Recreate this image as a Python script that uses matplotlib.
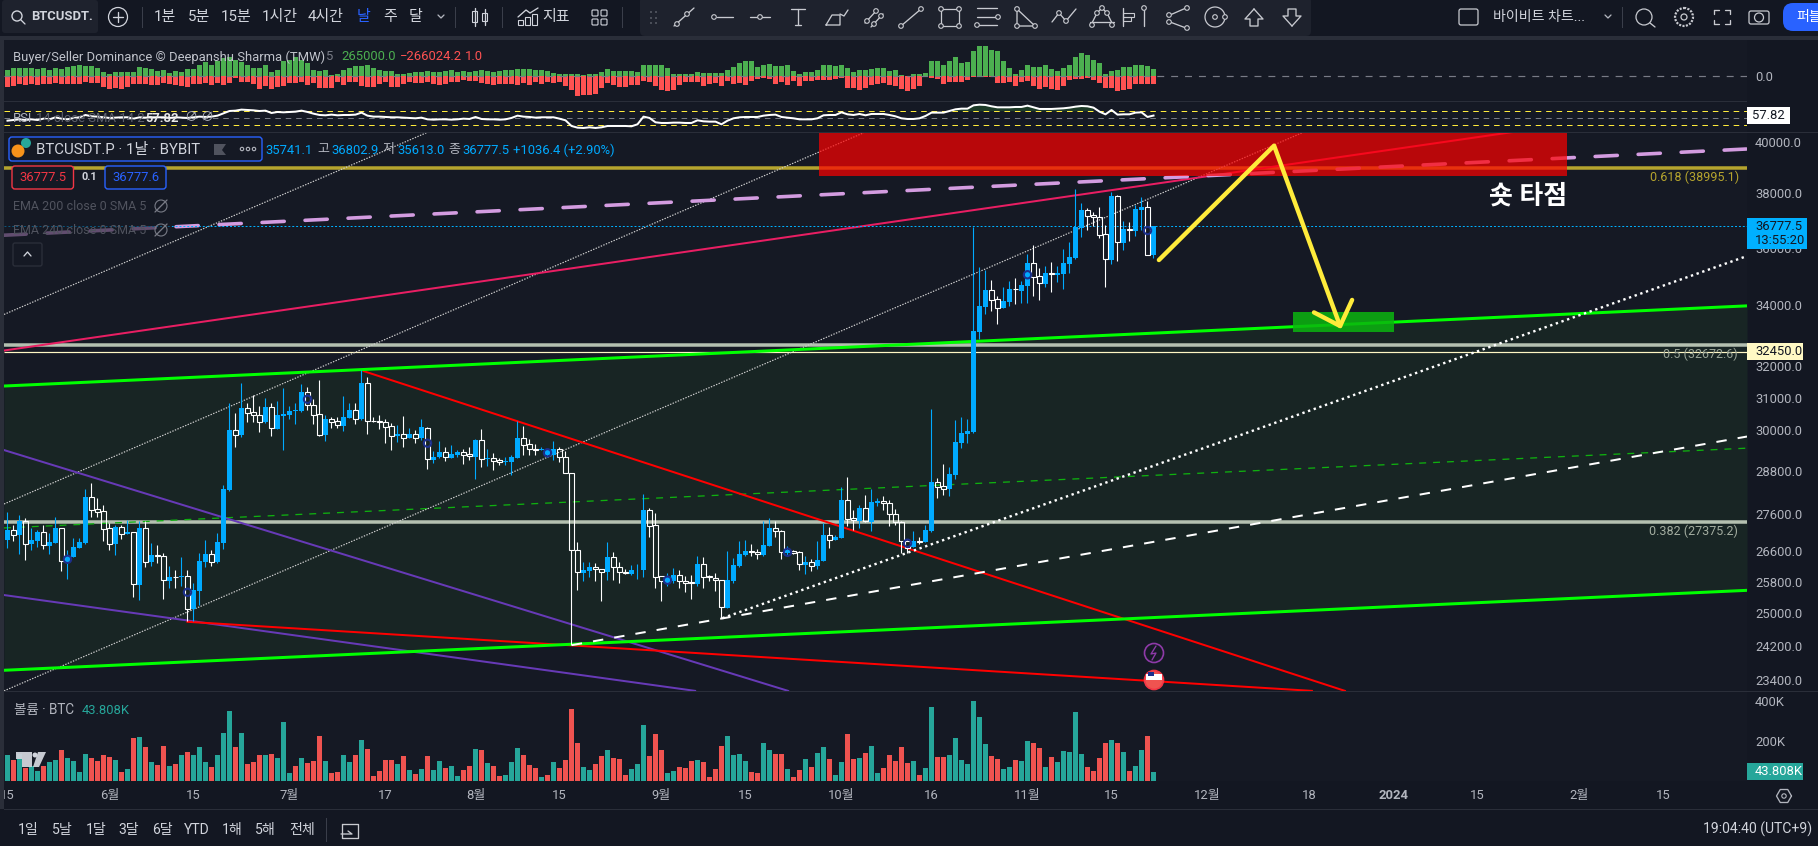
import numpy as np
import matplotlib
matplotlib.use("Agg")
import matplotlib.pyplot as plt
from matplotlib.patches import Rectangle, Circle, FancyBboxPatch, Polygon
from matplotlib.ticker import NullLocator

plt.rcParams['font.family'] = ['Roboto', 'Noto Sans CJK KR', 'DejaVu Sans']
plt.rcParams['lines.scale_dashes'] = False

# daily candles, May 15 - Nov 22
opens = [26900,27160,27020,27400,26800,26870,27110,26740,26820,27210,
         26280,26450,26690,26820,28070,27740,27680,27220,26790,27240,
         27070,27110,25720,27210,26310,26510,26470,25820,25930,25930,
         25940,25100,25560,26310,26520,26310,26820,28270,30010,29870,
         30670,30550,30460,30250,30710,30050,30450,30470,30600,30600,
         31160,30770,30490,29870,30340,30280,30130,30370,30610,30350,
         31450,30300,30280,30250,30120,29840,29890,29780,29890,29780,
         30080,29140,29220,29360,29190,29270,29350,29300,29230,29710,
         29160,29180,29120,29080,29080,29200,29770,29590,29450,29430,
         29280,29280,29450,29210,28750,26620,26030,26070,26180,26120,
         26040,26440,26180,26050,26010,26120,26110,27710,27290,25940,
         25750,25830,25970,25810,25790,25750,26250,25940,25890,25850,
         25140,25820,26220,26500,26600,26580,26500,26740,27210,27130,
         26540,26590,26570,26240,26310,26210,26340,27030,26900,26950,
         27980,27490,27410,27760,27390,27910,27960,27900,27600,27380,
         26860,26720,26870,26850,27130,28490,28390,28300,28700,29630,
         29910,29960,33100,33940,34500,34190,33900,34100,34550,34480,
         34660,35440,34980,34720,35090,35040,35060,35420,35640,36730,
         37370,37180,37110,36480,35560,37900,36170,36670,36600,37380,
         37490,35741.1]
highs = [27650,27300,27580,27490,27210,27170,27300,27080,27520,27210,
         26630,26950,26950,28290,28460,28040,27860,27350,27300,27300,
         27440,27120,27400,27400,26810,26770,26540,26210,26110,26440,
         26110,25760,26540,26900,26630,27080,28420,30830,30520,31450,
         30830,31080,30730,30980,30830,30880,31290,30730,30830,31430,
         31340,30950,31550,30470,30420,30420,31050,30830,30830,31870,
         31640,30420,30460,30340,30220,30170,30440,30060,30020,30340,
         30090,29380,29690,29520,29570,29430,29450,29520,29750,30050,
         29450,29330,29180,29230,29280,30290,30130,29760,29600,29500,
         29450,29690,29500,29380,28750,26840,26300,26320,26280,26130,
         26840,26570,26310,26120,26230,26260,28150,27760,27620,25950,
         26020,26150,26110,25940,25980,26480,26450,25980,26020,25850,
         26600,26410,26870,26900,26790,26650,27410,27490,27400,27170,
         26740,26630,26590,26460,26390,26860,27350,27260,27030,28370,
         28630,27700,27860,28130,28290,28040,28100,27990,27750,27410,
         26900,27140,26990,27300,30640,28610,29020,28920,30310,30400,
         30350,36750,35300,35210,34860,34310,34610,34830,34920,34810,
         35770,36100,35270,35330,35490,35360,35950,36200,38170,37630,
         37440,37300,37480,36830,38060,37940,36980,36940,37570,37870,
         37710,36802.9]
lows = [26680,26860,26530,26370,26630,26720,26660,26530,26820,26090,
        25880,26440,26680,26780,27530,27530,26860,26620,26510,26930,
        27070,25400,25340,26190,26210,26280,25360,25630,25630,25680,
        24800,24800,25210,26190,26210,26280,26660,28250,29520,29820,
        30270,30270,29940,30240,29850,30040,29430,30350,30190,30570,
        30620,30200,29840,29690,30060,30060,29990,30370,30200,30320,
        29900,30250,30040,29620,29410,29670,29500,29770,29620,29720,
        28880,29050,29180,29110,29180,29230,29020,29130,28590,28940,
        28960,28830,28990,28990,28700,29200,29280,29280,29280,29410,
        29230,29130,29080,28750,24230,25590,25810,25930,25830,25300,
        25850,25850,25780,26000,25980,25870,25930,26990,25650,25320,
        25680,25780,25640,25550,25370,25680,25640,25810,25560,24880,
        25140,25780,26190,26460,26460,26390,26480,26740,26990,26380,
        26460,26530,26110,25990,26090,26120,26340,26670,26900,26950,
        27280,27170,27210,27380,27150,27830,27720,27280,27300,26560,
        26560,26700,26790,26850,27110,28060,28130,28100,28590,29480,
        29640,29920,32870,33700,33780,33360,33890,33970,34030,34080,
        34080,34310,34170,34610,34450,34790,34550,35100,35600,36400,
        36640,36790,36360,34600,35420,35530,35930,36250,36420,36640,
        35730,35613.0]
closes = [27170,27020,27410,26800,26890,27110,26750,26850,27220,26330,
          26460,26700,26850,28080,27710,27670,27200,26800,27250,27070,
          27110,25730,27220,26320,26500,26480,25840,25930,25910,25940,
          25120,25590,26340,26530,26320,26850,28290,30020,29880,30680,
          30540,30470,30270,30720,30060,30470,30500,30590,30620,31170,
          30770,30480,29880,30350,30270,30150,30410,30620,30350,31460,
          30290,30280,30250,30110,29850,29900,29790,29900,29790,30090,
          29170,29230,29370,29210,29310,29370,29290,29240,29720,29170,
          29180,29110,29060,29110,29220,29780,29580,29440,29430,29450,
          29450,29450,29210,28750,26620,26050,26110,26180,26120,26050,
          26440,26180,26040,26020,26110,26130,27720,27280,25930,25810,
          25920,25980,25810,25780,25760,26260,25910,25920,25840,25150,
          25850,26240,26530,26610,26570,26520,26770,27220,27130,26570,
          26620,26560,26250,26310,26220,26370,27030,26910,26970,27990,
          27470,27430,27760,27400,27940,27960,27900,27590,27380,26860,
          26680,26870,26850,27160,28500,28370,28310,28730,29660,29930,
          29990,33130,33970,34520,34170,33910,34140,34550,34530,34690,
          35460,34960,34740,35100,35050,35100,35460,35670,36750,37380,
          37170,37110,36470,35580,37900,36200,36680,36630,37420,37490,
          35740,36777.5]

# volume in thousands, g/r = bar colour
volume = [130,105,135,63,75,50,75,95,105,155,
          115,100,45,135,115,100,130,120,105,45,
          60,215,220,170,95,80,175,75,85,130,
          145,130,170,95,70,130,240,350,170,240,
          85,95,130,130,135,115,295,40,75,115,
          90,100,225,100,40,45,130,95,130,205,
          160,25,50,105,105,85,125,55,35,60,
          125,55,100,65,75,25,55,75,160,155,
          90,75,25,30,95,165,130,80,65,20,
          30,95,65,105,360,190,70,55,85,125,
          155,115,110,30,60,85,280,125,235,155,
          40,50,70,65,100,105,95,20,60,175,
          225,130,135,100,45,40,190,155,135,135,
          60,20,55,110,70,140,170,110,30,95,
          235,110,115,140,175,40,65,130,100,170,
          90,100,30,65,370,120,120,130,215,105,
          85,400,320,185,125,110,60,70,105,100,
          200,190,165,70,120,95,150,145,345,135,
          70,50,115,190,205,190,145,50,75,155,
          225,43.808]
volume_side = ("grgrggrggr" "ggggrrrrgr" "grgrgrrgrg" "rgggrgggrg" "rrrgrgggrg"
               "rrrgrrggrg" "rrrrrgrgrg" "rggrggrrgr" "grrgggrrrg" "rgrrrrggrr"
               "grrrgggrrr" "ggrrrgrrrr" "ggggrrggrr" "grrgrggrgg" "rrgrggrrrr"
               "rgrggrrggg" "ggggrrggrg" "grrgrggggg" "rrrrgrgrgg" "rg")

# buyer/seller dominance, read in steps of 12K
dom_buy = [17,24,25,25,25,21,25,19,24,20,
           26,31,32,30,29,23,13,7,12,12,
           13,13,26,25,22,15,17,10,15,13,
           22,21,34,42,32,46,55,58,49,42,
           33,24,24,32,11,19,44,49,57,49,
           39,19,14,19,4,7,17,24,31,31,
           33,24,17,14,15,7,7,10,11,13,
           14,13,13,16,17,13,15,12,16,19,
           15,11,15,17,19,21,21,21,19,19,
           14,9,7,7,7,5,4,5,7,13,
           21,16,16,14,14,11,34,34,34,32,
           25,7,7,7,7,13,9,10,10,10,
           18,28,40,46,46,28,34,36,29,29,
           32,16,5,13,13,19,34,34,29,34,
           24,12,19,17,22,25,25,16,17,3,
           1,7,7,9,44,44,34,46,58,38,
           43,76,91,89,79,74,46,24,7,19,
           33,27,26,32,21,16,24,33,57,69,
           62,49,39,7,15,17,28,28,33,32,
           31,22]
dom_sell = [33,29,25,28,25,26,25,23,21,23,
            24,23,23,19,21,21,33,38,36,38,
            33,23,25,24,26,27,20,23,27,29,
            34,24,23,21,26,21,26,21,7,17,
            18,23,40,29,39,33,29,21,21,17,
            26,21,35,36,35,19,27,17,18,29,
            33,33,25,19,33,33,25,17,20,21,
            17,24,26,24,19,18,11,16,14,21,
            23,26,23,24,23,26,21,26,17,23,
            19,21,19,31,43,59,58,56,54,36,
            21,26,33,33,28,26,14,18,31,43,
            44,43,26,18,19,19,29,23,21,29,
            16,23,21,26,16,8,7,9,24,19,
            26,15,29,14,14,11,11,11,8,6,
            36,37,43,36,27,23,21,26,29,39,
            46,39,29,4,7,9,23,19,19,19,
            12,3,3,3,3,21,21,19,29,19,
            14,29,39,33,39,41,31,11,9,9,
            7,11,21,36,36,46,41,39,23,23,
            23,23]

rsi = [43.3,45.2,47.1,45.2,47.1,45.2,49,47.1,52.9,49,
       47.1,51,52.9,59.5,55.7,54.8,52.9,51,51.9,52.9,
       52.9,49,52.9,51.9,52.9,52.9,52.9,51,52.9,51.9,
       51,52.9,54.8,53.8,54.8,57.6,64.3,70.9,71.9,74.8,
       73.8,72.8,70.9,71.9,65.2,68.1,67.1,68.1,69,71.9,
       68.1,63.3,59.5,58.6,60.5,58.6,59.5,59.5,60.5,66.2,
       57.6,54.8,54.8,53.8,52.9,52.9,51.9,51,50,51.9,
       47.1,46.2,47.1,47.1,46.2,47.1,49,48.1,53.8,48.1,
       47.1,47.1,46.2,47.1,51,57.6,54.8,53.8,51.9,52.9,
       52.9,52.9,49,44.3,28.1,23.3,22.4,24.3,22.4,24.3,
       28.1,28.1,28.1,28.1,27.2,32.9,54.8,51,38.6,36.7,
       36.7,37.6,37.6,36.7,36.7,44.3,41.4,40.5,40.5,32.9,
       43.3,50,52.9,53.8,53.8,53.8,57.6,59.5,60.5,53.8,
       51.9,50,47.1,47.1,47.1,50,58.6,59.5,59.5,67.1,
       61.4,59.5,62.4,58.6,62.4,62.4,62.4,59.5,55.7,50,
       48.1,48.1,50,56.7,66.2,66.2,66.2,70.9,75.7,77.6,
       77.6,87.1,89,88.1,84.3,81.4,81.4,81.4,82.4,82.4,
       86.2,81.4,76.7,76.7,76.7,77.6,78.6,80.5,83.3,85.2,
       84.3,80.5,69,61.4,73.8,60.5,61.4,61.4,66.2,67.1,
       53.8,57.82]

marker_idx = [10,30,50,70,90,110,130,150,170,190]
marker_price = [26384,25530,30949,29622,29340,25840,26570,26810,35040,36620]

price_ticks = [40000,38000,36000,34000,32000,31000,30000,28800,27600,26600,25800,25000,24200,23400]
date_idx = [0,17,31,47,63,78,92,109,123,139,154,170,184,200,217,231,245,262,276]
date_labels = ['15','6월','15','7월','17','8월','15','9월','15','10월','16','11월','15','12월','18','2024','15','2월','15']

# fib levels
fib_618 = 38995.1
fib_500 = 32672.6
fib_382 = 27375.2
alert_price = 32450.0
last_price = 36777.5

# drawings: [idx0, idx1], [price0, price1]
green_top = ([-0.58,289.92],[31360,33970])
green_low = ([-0.58,289.92],[23620,25580])
green_mid = ([-0.58,289.92],[27222,29476])
pink_line = ([-0.58,289.92],[36449,39722])
crimson = ([-0.58,250.9],[32490,40400])
dot_a = ([-0.58,69.83],[33680,40370])
dot_b = ([-0.58,142.7],[27880,40370])
dot_c = ([-0.58,216.08],[23140,40400])
purple_a = ([-0.58,130.1],[29420,23140])
purple_b = ([-0.58,114.6],[25460,23140])
red_a = ([59.35,222.9],[31830,23140])
red_b = ([30,217.4],[24790,23140])
white_dash = ([94.05,289.92],[24220,29820])
white_dot = ([119.15,289.92],[24880,35700])
arrow_x = [191.9,211.1,222.1]
arrow_y = [35558,39853,33294]
barb_x = [217.75,222.1,224.1]
barb_y = [33749,33294,34171]
short_zone = (135.25,260.0,38680,40371)
target_zone = (214.25,231.08,33096,33773)

W, H = 1818, 846
BG = '#131722'
PANE = '#151924'
GRID = '#2a2e39'
TXT = '#b2b5be'
BLUE = '#00aaff'
PX = 0.72  # one pixel in points at dpi 100

fig = plt.figure(figsize=(W/100, H/100), dpi=100, facecolor=BG)

def px_axes(x0, y0, x1, y1, **kw):
    return fig.add_axes([x0/W, 1-y1/H, (x1-x0)/W, (y1-y0)/H], **kw)

xlim = (-0.583, 289.917)
idx = np.arange(len(closes))

# ---- dominance pane
ax_dom = px_axes(4, 40, 1747, 101, facecolor=PANE)
ax_dom.bar(idx, np.array(dom_buy)*12, width=0.82, color='#4caf50')
ax_dom.bar(idx, -np.array(dom_sell)*12, width=0.82, color='#ff5252')
ax_dom.axhline(0, color='#787b86', lw=PX*1.2, dashes=(5, 5))
ax_dom.set_xlim(xlim)
ax_dom.set_ylim(-900, 1296)
ax_dom.set_xticks([])
ax_dom.yaxis.tick_right()
ax_dom.set_yticks([0], ['0.0'])

# ---- rsi pane
ax_rsi = px_axes(4, 102, 1747, 132, facecolor=PANE)
rsi_arr = np.array(rsi)
ax_rsi.fill_between(idx, 70, rsi_arr, where=rsi_arr > 70, color='#2e7d32', alpha=0.35, lw=0)
ax_rsi.axhline(70, color='#ffeb3b', lw=PX, dashes=(4, 3.5))
ax_rsi.axhline(50, color='#787b86', lw=PX, dashes=(4, 3.5))
ax_rsi.axhline(30, color='#ffeb3b', lw=PX, dashes=(4, 3.5))
ax_rsi.plot(idx, rsi_arr, color='white', lw=PX*2)
ax_rsi.set_xlim(xlim)
ax_rsi.set_ylim(10.9, 96.6)
ax_rsi.set_xticks([])
ax_rsi.set_yticks([])

# ---- main pane
ax = px_axes(4, 133, 1747, 691, facecolor=PANE)
ax.set_yscale('log')
xs = np.array(xlim)
ax.fill_between(xs, np.exp(np.interp(xs, green_low[0], np.log(green_low[1]))),
                np.exp(np.interp(xs, green_top[0], np.log(green_top[1]))), color='#182524', lw=0, zorder=1)
ax.hlines(fib_618, *xs, color='#b5a42e', lw=PX*3.5, zorder=2)
ax.hlines(fib_500, *xs, color='#b4c0b0', lw=PX*3.5, zorder=2)
ax.hlines(fib_382, *xs, color='#b4c0b0', lw=PX*3.5, zorder=2)
ax.hlines(alert_price, *xs, color='#fff7c4', lw=PX*1.2, zorder=2)
ax.plot(*green_mid, color='#0fb00f', lw=PX*1.3, dashes=(5, 5), zorder=2)
for ln in (dot_a, dot_b, dot_c):
    ax.plot(*ln, color='#cfcfcf', lw=PX*1.2, dashes=(1, 1), zorder=2)
for ln in (purple_a, purple_b):
    ax.plot(*ln, color='#673ab7', lw=PX*2, zorder=2)
for ln in (red_a, red_b):
    ax.plot(*ln, color='#ff0000', lw=PX*2, zorder=2)
ax.plot(*crimson, color='#e91e63', lw=PX*2, zorder=2)
ax.plot(*pink_line, color='#d39ce0', lw=PX*3.6, dashes=(16, 15), dash_capstyle='round', zorder=2)
ax.plot(*green_top, color='#00ff00', lw=PX*3, zorder=2)
ax.plot(*green_low, color='#00ff00', lw=PX*3, zorder=2)
ax.plot(*white_dash, color='white', lw=PX*2, dashes=(7.5, 8), zorder=2)
ax.plot(*white_dot, color='white', lw=PX*2.4, dashes=(1.7, 2.6), zorder=2)
ax.hlines(last_price, *xs, color='#00b0ff', lw=PX, linestyles=[(0, (1.4, 1.4))], zorder=2)

# candles, blue filled up and hollow white down
opens_a, highs_a, lows_a, closes_a = map(np.array, (opens, highs, lows, closes))
up = closes_a >= opens_a
top = np.maximum(opens_a, closes_a)
bot = np.minimum(opens_a, closes_a)
ax.vlines(idx[up], lows_a[up], highs_a[up], color=BLUE, lw=PX*1.1, zorder=3)
ax.bar(idx[up], (top-bot)[up], bottom=bot[up], width=0.83, color=BLUE, lw=0, zorder=3)
dn = ~up
ax.vlines(idx[dn], top[dn], highs_a[dn], color='white', lw=PX*1.1, zorder=3)
ax.vlines(idx[dn], lows_a[dn], bot[dn], color='white', lw=PX*1.1, zorder=3)
ax.bar(idx[dn], (top-bot)[dn], bottom=bot[dn], width=0.72, facecolor='none', edgecolor='white', lw=PX*1.1, zorder=3)
ax.scatter(marker_idx, marker_price, s=28, facecolors='none', edgecolors='#1c2f8c', linewidths=1.5, zorder=4)

# zones and arrow
x0, x1, y0, y1 = short_zone
ax.add_patch(Rectangle((x0, y0), x1-x0, y1-y0, facecolor='#ff0000', alpha=0.7, lw=0, zorder=5))
x0, x1, y0, y1 = target_zone
ax.add_patch(Rectangle((x0, y0), x1-x0, y1-y0, facecolor='#0bb50f', alpha=0.85, lw=0, zorder=2.5))
ax.plot(arrow_x, arrow_y, color='#ffeb3b', lw=PX*4.4, solid_capstyle='round', zorder=6)
ax.plot(barb_x, barb_y, color='#ffeb3b', lw=PX*4.4, solid_capstyle='round', zorder=6)

ax.set_xlim(xlim)
ax.set_ylim(23137, 40360)
ax.yaxis.tick_right()
ax.set_yticks(price_ticks, [f'{p:.1f}' for p in price_ticks])
ax.yaxis.set_minor_locator(NullLocator())
ax.set_xticks([])

# ---- volume pane
ax_vol = px_axes(4, 692, 1747, 781, facecolor=PANE)
vol_colors = ['#26a69a' if s == 'g' else '#ef5350' for s in volume_side]
ax_vol.bar(idx, volume, width=0.82, color=vol_colors, lw=0)
ax_vol.set_xlim(xlim)
ax_vol.set_ylim(0, 445)
ax_vol.yaxis.tick_right()
ax_vol.set_yticks([200, 400], ['200K', '400K'])
ax_vol.set_xticks(date_idx, date_labels)
ax_vol.tick_params(axis='x', length=0, pad=6, colors=TXT, labelsize=9.4)
for lab, s in zip(ax_vol.get_xticklabels(), date_labels):
    if s == '2024':
        lab.set_fontweight('bold')

for a in (ax_dom, ax_rsi, ax, ax_vol):
    for sp in a.spines.values():
        sp.set_visible(False)
    a.tick_params(axis='y', length=0, pad=5.8, colors=TXT, labelsize=9.4)

# ---- interface layer, in screen pixels
ui = fig.add_axes([0, 0, 1, 1], zorder=20)
ui.set_xlim(0, W)
ui.set_ylim(H, 0)
ui.axis('off')
ui.patch.set_visible(False)

def label(x, y, s, color=TXT, size=12, ha='left', weight='normal', **kw):
    return ui.text(x, y, s, color=color, fontsize=size*PX, ha=ha, va='center', fontweight=weight, **kw)

def rect(x0, y0, x1, y1, fc, ec='none', lw=0, z=1, alpha=None):
    ui.add_patch(Rectangle((x0, y0), x1-x0, y1-y0, facecolor=fc, edgecolor=ec, lw=lw, zorder=z, alpha=alpha))

def rbox(x0, y0, x1, y1, fc, ec='none', lw=0, r=3, z=1):
    ui.add_patch(FancyBboxPatch((x0+r, y0+r), x1-x0-2*r, y1-y0-2*r, boxstyle=f'round,pad={r}',
                                facecolor=fc, edgecolor=ec, lw=lw, zorder=z))

def stroke(xs_, ys_, color='#c8cad0', lw=1.1, z=3):
    ui.plot(xs_, ys_, color=color, lw=lw*PX*1.2, zorder=z, solid_capstyle='round')

def dot(x, y, r=2.3, color='#c8cad0', z=4):
    ui.add_patch(Circle((x, y), r, facecolor='#1e222d', edgecolor=color, lw=0.8, zorder=z))

# frame
rect(0, 36, W, 40, GRID)
rect(0, 40, 4, 809, GRID)
rect(4, 101, 1747, 102, GRID)
rect(4, 132, W, 133, GRID)
rect(4, 691, W, 692, GRID)
rect(4, 809, W, 810, GRID)

# top bar
rbox(2, 0, 98, 33, '#1e222d', r=3)
ui.add_patch(Circle((17, 16), 5, facecolor='none', edgecolor='#d1d4dc', lw=1))
stroke([21, 25], [20, 24], '#d1d4dc')
label(31, 17, 'BTCUSDT.', '#d1d4dc', 13, weight='bold')
ui.add_patch(Circle((118, 17), 9.5, facecolor='none', edgecolor='#d1d4dc', lw=0.9))
stroke([113, 123], [17, 17], '#d1d4dc')
stroke([118, 118], [12, 22], '#d1d4dc')
for sx in (142, 455, 502, 622, 1622):
    rect(sx, 7, sx+1, 28, '#3a3e4a')
for cx, s in zip((165, 199, 236, 280, 326, 390, 416), ('1분', '5분', '15분', '1시간', '4시간', '주', '달')):
    label(cx, 17, s, '#d1d4dc', 15, ha='center')
label(364, 17, '날', '#2962ff', 15, ha='center')
stroke([438, 441, 444], [15, 18, 15], TXT)
rect(472, 11, 477, 22, 'none', '#d1d4dc', 0.8)
rect(482, 13, 487, 21, 'none', '#d1d4dc', 0.8)
stroke([474.5, 474.5], [8, 26], '#d1d4dc')
stroke([484.5, 484.5], [9, 25], '#d1d4dc')
stroke([518, 526, 530, 538], [17, 10, 13, 8], '#d1d4dc')
for bx, bh in ((518, 5), (525, 8), (532, 11)):
    rect(bx, 25-bh, bx+5, 25, 'none', '#d1d4dc', 0.8)
label(556, 17, '지표', '#d1d4dc', 15, ha='center')
for gx in (592, 601):
    for gy in (10, 19):
        rbox(gx, gy, gx+6, gy+6, 'none', '#d1d4dc', 0.8, r=1)

# drawing toolbar
rbox(640, -4, 1311, 36, '#1e222d', r=5, z=2)
for dx in (650, 655):
    for dy in (11, 17, 22):
        rect(dx, dy, dx+2, dy+2, '#4a4e58', z=3)
def seg_icon(cx, kind):
    if kind == 'diag':
        stroke([cx-10, cx+10], [26, 8])
        dot(cx-7, 24); dot(cx+3, 14)
    elif kind == 'ray':
        stroke([cx-5, cx+11], [17, 17])
        dot(cx-8, 17)
    elif kind == 'hmid':
        stroke([cx-10, cx+10], [17, 17])
        dot(cx, 17)
    elif kind == 'text':
        stroke([cx-7, cx+7], [9, 9])
        stroke([cx, cx], [9, 25])
        stroke([cx-3, cx+3], [25, 25])
    elif kind == 'brush':
        stroke([cx-12, cx-6, cx+2, cx+2, cx-12], [25, 15, 15, 25, 25])
        stroke([cx+2, cx+6, cx+10], [14, 16, 10])
    elif kind == 'par':
        stroke([cx-10, cx+2], [23, 10])
        stroke([cx-4, cx+8], [27, 14])
        dot(cx-8, 21); dot(cx+1, 11); dot(cx-1, 24); dot(cx+6, 16)
    elif kind == 'line':
        stroke([cx-10, cx+10], [26, 9])
        dot(cx-10, 26); dot(cx+10, 9)
    elif kind == 'rect':
        rect(cx-9, 9, cx+9, 26, 'none', '#c8cad0', 0.9, z=3)
        for a_, b_ in ((-9, 9), (9, 9), (-9, 26), (9, 26)):
            dot(cx+a_, b_)
    elif kind == 'fib':
        for yy in (8, 17, 25):
            stroke([cx-11, cx+9], [yy, yy])
        dot(cx+10, 17); dot(cx-11, 25)
    elif kind == 'tri':
        stroke([cx-9, cx-9, cx+9, cx-9], [9, 26, 26, 9])
        dot(cx-9, 9); dot(cx-9, 26); dot(cx+9, 26)
    elif kind == 'wave':
        stroke([cx-12, cx-5, cx+2, cx+12], [22, 13, 21, 9])
        dot(cx-5, 13); dot(cx+2, 21)
    elif kind == 'pattern':
        stroke([cx-11, cx-5, cx, cx+5, cx+11], [25, 13, 8, 13, 25])
        stroke([cx-12, cx+12], [22, 22])
        for a_, b_ in ((-10, 25), (-5, 13), (0, 8), (5, 13), (10, 25)):
            dot(cx+a_, b_)
    elif kind == 'pos':
        stroke([cx-7, cx-7], [8, 26])
        rect(cx-7, 13, cx+4, 17, 'none', '#c8cad0', 0.8, z=3)
        rect(cx-7, 17, cx+1, 21, 'none', '#c8cad0', 0.8, z=3)
        stroke([cx+14, cx+14], [8, 26])
        dot(cx+14, 8)
    elif kind == 'share':
        stroke([cx-8, cx+8], [15, 8])
        stroke([cx-8, cx+8], [22, 28])
        for a_, b_ in ((-9, 15), (9, 8), (-9, 22), (9, 28)):
            dot(cx+a_, b_)
    elif kind == 'ring':
        ui.add_patch(Circle((cx, 17), 10, facecolor='none', edgecolor='#c8cad0', lw=0.9, zorder=3))
        dot(cx, 17); dot(cx+10, 17)
    elif kind == 'up':
        stroke([cx, cx+9, cx+4, cx+4, cx-4, cx-4, cx-9, cx], [9, 19, 19, 26, 26, 19, 19, 9])
    elif kind == 'down':
        stroke([cx, cx+9, cx+4, cx+4, cx-4, cx-4, cx-9, cx], [26, 16, 16, 9, 9, 16, 16, 26])
for cx, kind in ((684, 'diag'), (722, 'ray'), (760, 'hmid'), (798, 'text'), (838, 'brush'), (875, 'par'),
                 (911, 'line'), (950, 'rect'), (988, 'fib'), (1026, 'tri'), (1064, 'wave'), (1102, 'pattern'),
                 (1130, 'pos'), (1178, 'share'), (1215, 'ring'), (1254, 'up'), (1292, 'down')):
    seg_icon(cx, kind)

# top right
rbox(1459, 9, 1478, 25, 'none', '#c8cad0', 0.9, r=2)
label(1493, 17, '바이비트 차트...', '#d1d4dc', 14)
stroke([1605, 1608, 1611], [15, 18, 15], TXT)
ui.add_patch(Circle((1644, 17), 8, facecolor='none', edgecolor='#c8cad0', lw=0.9))
stroke([1650, 1655], [23, 27])
ui.add_patch(Circle((1684, 17), 9, facecolor='none', edgecolor='#c8cad0', lw=1.6, linestyle=(0, (1.5, 1))))
ui.add_patch(Circle((1684, 17), 3, facecolor='none', edgecolor='#c8cad0', lw=0.9))
for xa, xb, ya, yb in ((1714, 1719, 10, 10), (1725, 1730, 10, 10), (1714, 1719, 24, 24), (1725, 1730, 24, 24),
                       (1714, 1714, 10, 14), (1730, 1730, 10, 14), (1714, 1714, 20, 24), (1730, 1730, 20, 24)):
    stroke([xa, xb], [ya, yb])
rbox(1749, 11, 1769, 24, 'none', '#c8cad0', 0.9, r=2)
ui.add_patch(Circle((1759, 17.5), 4.5, facecolor='none', edgecolor='#c8cad0', lw=0.9))
rbox(1783, 3, 1834, 31, '#2962ff', r=10)
label(1796, 17, '퍼블', 'white', 14, clip_on=True)

# legends
label(13, 57, 'Buyer/Seller Dominance © Deepanshu Sharma (TMW)', '#c0c3cb', 13)
label(326, 57, '5', '#787b86', 13)
label(341, 57, '265000.0', '#4caf50', 13)
label(400, 57, '−266024.2', '#ff5252', 13)
label(465, 57, '1.0', '#ff5252', 13)
label(13, 118, 'RSI', '#b2b5be', 13)
label(36, 118, '14 close SMA 14 2', '#5d606b', 13)
label(145, 118, '57.82', '#e8e8e8', 13, weight='bold')
label(184, 118, '∅', TXT, 13)
label(200, 118, '∅', TXT, 13)

rbox(9, 137, 262, 161, '#151924', '#2962ff', 1, r=3, z=2)
ui.add_patch(Circle((26, 143), 5, facecolor='#26a69a', zorder=3))
ui.add_patch(Circle((18, 151), 6.5, facecolor='#f7931a', zorder=3))
label(35.5, 150, 'BTCUSDT.P · 1날 · BYBIT', '#d1d4dc', 15, zorder=3)
ui.add_patch(Polygon([(214, 144), (226, 144), (222, 150), (226, 155), (214, 155)], facecolor='#50535e', zorder=3))
for cx in (242, 248, 254):
    ui.add_patch(Circle((cx, 149), 1.7, facecolor='none', edgecolor='#b2b5be', lw=0.8, zorder=3))
OHLC = '#00aaff'
label(265, 150, '35741.1', OHLC, 13)
label(317, 150, '고', TXT, 13)
label(331, 150, '36802.9', OHLC, 13)
label(382, 150, '저', TXT, 13)
label(397, 150, '35613.0', OHLC, 13)
label(448, 150, '종', TXT, 13)
label(462, 150, '36777.5', OHLC, 13)
label(513, 150, '+1036.4 (+2.90%)', OHLC, 13)

rbox(12, 166, 73.5, 189, '#151924', '#f23645', 1, r=3, z=2)
label(43, 177.5, '36777.5', '#f23645', 13, ha='center', zorder=3)
label(89, 177, '0.1', '#d1d4dc', 11, ha='center', weight='bold', zorder=3)
rbox(105, 166, 166, 189, '#151924', '#2962ff', 1, r=3, z=2)
label(136, 177.5, '36777.6', '#2962ff', 13, ha='center', zorder=3)

rect(4, 195, 172, 240, PANE, alpha=0.6)
label(13, 206, 'EMA 200 close 0 SMA 5', '#50535e', 12.5, zorder=3)
label(13, 230, 'EMA 240 close 0 SMA 5', '#50535e', 12.5, zorder=3)
for ey in (206, 230):
    ui.add_patch(Circle((161, ey), 6, facecolor='none', edgecolor='#787b86', lw=0.8, zorder=3))
    stroke([155, 167], [ey+6, ey-6], '#787b86')
rbox(13, 243, 42, 266, '#151924', '#2a2e39', 1, r=2, z=2)
stroke([24, 27.5, 31], [256, 252, 256], '#d1d4dc', z=3)

label(1528, 196, '숏 타점', 'white', 26, ha='center', weight='bold', zorder=8)
label(1739, 177, '0.618 (38995.1)', '#b5a42e', 12.5, ha='right')
label(1738, 354, '0.5 (32672.6)', '#9aa598', 12.5, ha='right')
label(1738, 531.5, '0.382 (27375.2)', '#a3ada0', 12.5, ha='right')

# price tags
rect(1747, 107, 1790, 124, 'white', z=3)
label(1768.5, 115.5, '57.82', '#131722', 13, ha='center', zorder=4)
rect(1747, 218, 1807, 249, '#00b0ff', z=3)
label(1755, 226, '36777.5', '#131722', 13, zorder=4)
label(1755, 241, '13:55:20', '#131722', 13, zorder=4)
rect(1747, 343, 1803, 360, '#fff9c4', z=3)
label(1755, 351.5, '32450.0', '#131722', 13, zorder=4)
rect(1747, 763, 1803, 780, '#26a69a', z=3)
label(1755, 771.5, '43.808K', 'white', 13, zorder=4)

# event icons
ui.add_patch(Circle((1154, 653), 9.5, facecolor='#151924', edgecolor='#8e3aa8', lw=1.2, zorder=3))
stroke([1156, 1151, 1156, 1152], [646, 654, 653, 660], '#8e3aa8', z=4)
ui.add_patch(Circle((1154, 680), 9.5, facecolor='#ef5350', edgecolor='#f23645', lw=1.2, zorder=3))
ui.add_patch(Rectangle((1146, 674), 16, 6, facecolor='white', zorder=4))
ui.add_patch(Rectangle((1148, 672), 6, 4, facecolor='#1c2f8c', zorder=5))

# volume legend and logo
label(14, 710, '볼륨 · BTC', '#b2b5be', 13.5)
label(82, 710, '43.808K', '#26a69a', 13)
ui.add_patch(Polygon([(16, 752), (32, 752), (32, 767), (22, 767), (22, 759), (16, 759)], facecolor='#d1d4dc', alpha=0.95, zorder=3))
ui.add_patch(Polygon([(38, 752), (46, 752), (39, 767), (33, 767)], facecolor='#d1d4dc', alpha=0.95, zorder=3))
ui.add_patch(Circle((35, 755), 2.5, facecolor='#d1d4dc', zorder=3))

# bottom bar
for cx, s in zip((28.5, 62, 96, 129, 162, 197, 232, 265, 302),
                 ('1일', '5날', '1달', '3달', '6달', 'YTD', '1해', '5해', '전체')):
    label(cx, 830, s, '#d1d4dc', 14, ha='center')
rect(326, 818, 327, 842, '#3a3e4a')
stroke([342, 358, 358, 342, 342], [824, 824, 838, 838, 824], '#c8cad0')
stroke([341, 352, 348], [834, 834, 831], '#c8cad0')
label(1812, 829, '19:04:40 (UTC+9)', '#d1d4dc', 14, ha='right')
hex_x = 1784 + 7.5*np.cos(np.linspace(0, 2*np.pi, 7))
hex_y = 796 + 7.5*np.sin(np.linspace(0, 2*np.pi, 7))
stroke(hex_x, hex_y, TXT)
ui.add_patch(Circle((1784, 796), 2.2, facecolor='none', edgecolor=TXT, lw=0.8))

fig.savefig('out.png', dpi=100, facecolor=BG)
